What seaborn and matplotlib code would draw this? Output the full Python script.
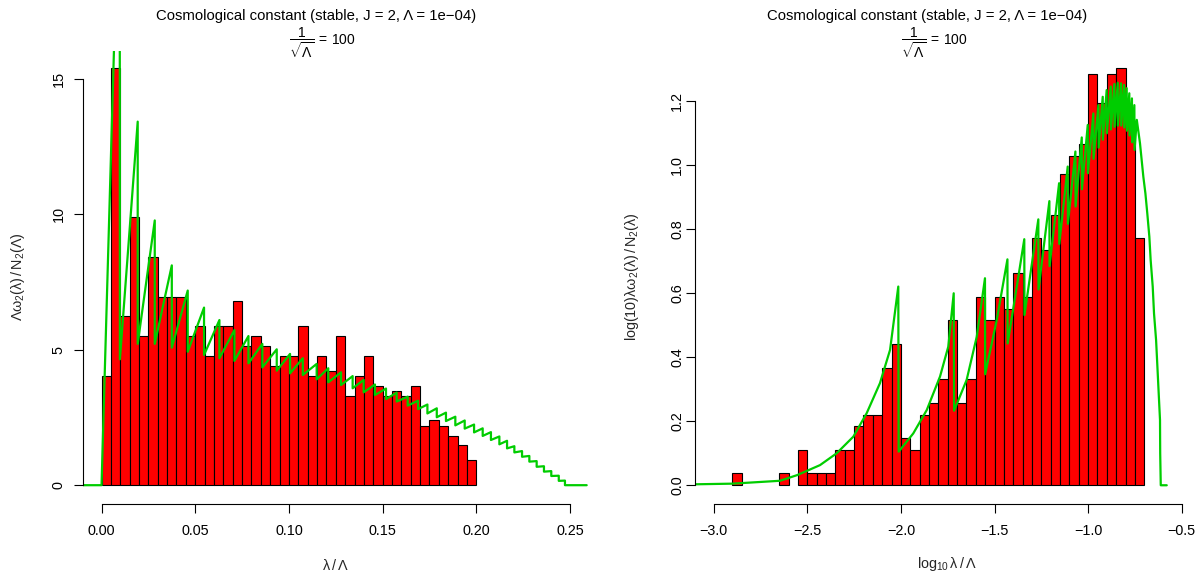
import numpy as np
import pandas as pd
import matplotlib
matplotlib.use("Agg")
import matplotlib.pyplot as plt
import seaborn as sns

# ---------------- data ----------------
title_text = "Cosmological constant (stable, J = 2, \u039b = 1e\u221204)"
subtitle_text = r"$\dfrac{1}{\sqrt{\Lambda}}\,=\,100$"

# left panel: histogram of lambda/Lambda, bins of width 0.005 starting at 0
left_bin_start = 0.0
left_bin_width = 0.005
left_heights = [4.04, 15.41, 6.24, 9.91, 5.50, 8.44, 6.97, 6.97, 6.97, 5.50,
                5.87, 4.77, 5.87, 5.87, 6.79, 5.14, 5.50, 5.14, 4.40, 4.77,
                4.77, 5.87, 4.04, 4.77, 4.22, 5.50, 3.30, 4.04, 4.77, 3.67,
                3.30, 3.49, 3.30, 3.67, 2.20, 2.39, 2.20, 1.83, 1.47, 0.92]

left_curve_x = [-0.0100, 0.0000, 0.0097, 0.0098,
                0.0193, 0.0193, 0.0284, 0.0284, 0.0375, 0.0375, 0.0460, 0.0460,
                0.0547, 0.0547, 0.0629, 0.0629, 0.0709, 0.0709, 0.0784, 0.0784,
                0.0858, 0.0858, 0.0935, 0.0935, 0.1006, 0.1006, 0.1074, 0.1074,
                0.1148, 0.1148, 0.1210, 0.1210, 0.1278, 0.1278, 0.1340, 0.1340,
                0.1399, 0.1399, 0.1459, 0.1459, 0.1518, 0.1518, 0.1575, 0.1575,
                0.1634, 0.1634, 0.1689, 0.1689, 0.1739, 0.1739, 0.1789, 0.1789,
                0.1838, 0.1838, 0.1888, 0.1888, 0.1938, 0.1938, 0.1988, 0.1988,
                0.2034, 0.2034, 0.2078, 0.2078, 0.2123, 0.2123, 0.2164, 0.2164,
                0.2203, 0.2203, 0.2244, 0.2244, 0.2283, 0.2283, 0.2322, 0.2322,
                0.2361, 0.2361, 0.2400, 0.2400, 0.2440, 0.2440, 0.2473, 0.2473,
                0.2589]
left_curve_y = [0.0, 0.0, 23.5, 4.65,
                13.43, 5.22, 9.78, 5.22, 8.12, 5.08, 7.19, 4.93,
                6.56, 4.81, 6.10, 4.69, 5.73, 4.59, 5.51, 4.50,
                5.22, 4.35, 5.02, 4.23, 4.85, 4.13, 4.69, 4.07,
                4.48, 3.91, 4.32, 3.80, 4.17, 3.70, 4.03, 3.58,
                3.89, 3.43, 3.72, 3.33, 3.57, 3.18, 3.42, 3.09,
                3.27, 2.94, 3.12, 2.81, 2.98, 2.65, 2.84, 2.51,
                2.68, 2.37, 2.53, 2.21, 2.39, 2.09, 2.24, 1.95,
                2.10, 1.82, 1.96, 1.67, 1.80, 1.51, 1.64, 1.36,
                1.44, 1.21, 1.26, 1.05, 1.08, 0.87, 0.89, 0.68,
                0.70, 0.50, 0.52, 0.34, 0.35, 0.16, 0.17, 0.0,
                0.0]

# right panel: histogram of log10(lambda/Lambda), bins of width 0.05 from -2.90
right_bin_start = -2.90
right_bin_width = 0.05
right_heights = [0.037, 0.0, 0.0, 0.0, 0.0, 0.037, 0.0,
                 0.110, 0.037, 0.037, 0.037, 0.110, 0.110, 0.184, 0.220, 0.220, 0.368,
                 0.441, 0.147, 0.110, 0.220, 0.257, 0.331, 0.515, 0.257, 0.331, 0.588,
                 0.515, 0.588, 0.551, 0.662, 0.588, 0.772, 0.735, 0.845, 0.974, 1.029,
                 1.066, 1.286, 1.194, 1.286, 1.305, 1.139, 0.772]

right_curve_x = [-3.100, -2.902, -2.646, -2.553, -2.432, -2.343, -2.254, -2.183,
                 -2.112, -2.058, -2.014, -2.012,
                 -1.934, -1.862, -1.791, -1.747, -1.718, -1.716,
                 -1.649, -1.595, -1.551, -1.550,
                 -1.488, -1.431, -1.430,
                 -1.381, -1.341, -1.340,
                 -1.266, -1.265, -1.207, -1.206, -1.155, -1.154, -1.109, -1.108,
                 -1.068, -1.067, -1.034, -1.033, -1.002, -1.001, -0.972, -0.971,
                 -0.945, -0.944, -0.922, -0.921, -0.901, -0.900, -0.879, -0.878,
                 -0.860, -0.859, -0.842, -0.841, -0.824, -0.823, -0.808, -0.807,
                 -0.794, -0.793, -0.780, -0.779, -0.766, -0.765, -0.753, -0.752,
                 -0.740, -0.723, -0.705, -0.694, -0.684, -0.673, -0.666, -0.655,
                 -0.648, -0.637, -0.630, -0.623, -0.616, -0.615, -0.612, -0.580]
right_curve_y = [0.003, 0.005, 0.014, 0.032, 0.063, 0.100, 0.152, 0.225,
                 0.319, 0.423, 0.621, 0.105,
                 0.162, 0.235, 0.340, 0.433, 0.600, 0.233,
                 0.329, 0.464, 0.647, 0.347,
                 0.517, 0.706, 0.443,
                 0.621, 0.769, 0.532,
                 0.831, 0.612, 0.888, 0.685, 0.944, 0.754, 0.996, 0.817,
                 1.043, 0.871, 1.087, 0.925, 1.126, 0.975, 1.162, 1.020,
                 1.188, 1.055, 1.214, 1.080, 1.235, 1.100, 1.246, 1.112,
                 1.254, 1.120, 1.258, 1.124, 1.256, 1.124, 1.251, 1.118,
                 1.241, 1.108, 1.225, 1.093, 1.209, 1.072, 1.188, 1.048,
                 1.142, 1.069, 0.964, 0.912, 0.850, 0.777, 0.704, 0.621,
                 0.537, 0.454, 0.371, 0.287, 0.204, 0.100, 0.0, 0.0]

left_xticks = [0.00, 0.05, 0.10, 0.15, 0.20, 0.25]
left_xticklabels = ["0.00", "0.05", "0.10", "0.15", "0.20", "0.25"]
left_yticks = [0, 5, 10, 15]
left_yticklabels = ["0", "5", "10", "15"]
right_xticks = [-3.0, -2.5, -2.0, -1.5, -1.0, -0.5]
right_xticklabels = ["\u22123.0", "\u22122.5", "\u22122.0", "\u22121.5", "\u22121.0", "\u22120.5"]
right_yticks = [0.0, 0.2, 0.4, 0.6, 0.8, 1.0, 1.2]
right_yticklabels = ["0.0", "0.2", "0.4", "0.6", "0.8", "1.0", "1.2"]

left_xlabel = r"$\lambda\,/\,\Lambda$"
left_ylabel = r"$\Lambda\omega_2(\lambda)\,/\,N_2(\Lambda)$"
right_xlabel = r"$\log_{10}\lambda\,/\,\Lambda$"
right_ylabel = r"$\log(10)\lambda\omega_2(\lambda)\,/\,N_2(\lambda)$"

# ---------------- style ----------------
sns.set_style("white")
plt.rcParams.update({
    "font.family": ["Liberation Sans", "DejaVu Sans"],
    "mathtext.fontset": "custom",
    "mathtext.rm": "Liberation Sans",
    "mathtext.it": "Liberation Sans:italic",
    "mathtext.bf": "Liberation Sans:bold",
    "mathtext.default": "regular",
    "axes.unicode_minus": True,
})

W, H = 1201, 575
fig = plt.figure(figsize=(W / 100, H / 100), dpi=100)
fig.patch.set_facecolor("white")


def rect(l, t, r, b):
    return [l / W, 1 - b / H, (r - l) / W, (b - t) / H]


def fx(px):
    return px / W


def fy(py):
    return 1 - py / H


BAR = "#FF0000"
LINE = "#00CD00"
FS = 10.4

ax1 = fig.add_axes(rect(82.8, 50.7, 592.5, 503.6))
ax2 = fig.add_axes(rect(694.7, 50.5, 1183.6, 503.5))

# left histogram
l_edges = left_bin_start + left_bin_width * np.arange(len(left_heights) + 1)
left_df = pd.DataFrame({"x": (l_edges[:-1] + l_edges[1:]) / 2,
                        "w": np.asarray(left_heights, dtype=float)})
sns.histplot(data=left_df, x="x", weights="w", bins=[float(v) for v in l_edges],
             stat="count", color=BAR, edgecolor="black", linewidth=0.8,
             alpha=1, ax=ax1)
left_line = pd.DataFrame({"x": left_curve_x, "y": left_curve_y})
sns.lineplot(data=left_line, x="x", y="y", estimator=None, sort=False,
             color=LINE, linewidth=1.6, ax=ax1)

# right histogram
r_edges = right_bin_start + right_bin_width * np.arange(len(right_heights) + 1)
right_df = pd.DataFrame({"x": (r_edges[:-1] + r_edges[1:]) / 2,
                         "w": np.asarray(right_heights, dtype=float)})
sns.histplot(data=right_df, x="x", weights="w", bins=[float(v) for v in r_edges],
             stat="count", color=BAR, edgecolor="black", linewidth=0.8,
             alpha=1, ax=ax2)
for p in ax2.patches:
    if p.get_height() == 0:
        p.set_visible(False)
right_line = pd.DataFrame({"x": right_curve_x, "y": right_curve_y})
sns.lineplot(data=right_line, x="x", y="y", estimator=None, sort=False,
             color=LINE, linewidth=1.6, ax=ax2)

for ax, xt, xtl, yt, ytl, ypad in [
    (ax1, left_xticks, left_xticklabels, left_yticks, left_yticklabels, 6.2),
    (ax2, right_xticks, right_xticklabels, right_yticks, right_yticklabels, 1.3),
]:
    ax.set_facecolor("white")
    ax.grid(False)
    for s in ["top", "right"]:
        ax.spines[s].set_visible(False)
    for s in ["left", "bottom"]:
        ax.spines[s].set_color("black")
        ax.spines[s].set_linewidth(0.8)
    ax.set_xticks(xt)
    ax.set_xticklabels(xtl)
    ax.set_yticks(yt)
    ax.set_yticklabels(ytl, rotation=90, va="center")
    ax.spines["left"].set_bounds(yt[0], yt[-1])
    ax.spines["bottom"].set_bounds(xt[0], xt[-1])
    ax.tick_params(axis="both", direction="out", length=6.3, width=0.8,
                   color="black", labelsize=FS, labelcolor="black",
                   bottom=True, left=True, top=False, right=False)
    ax.tick_params(axis="x", pad=8.4)
    ax.tick_params(axis="y", pad=ypad)

# limits after ticks (set_xticks may widen the view)
ax1.set_xlim(-0.0100, 0.2620)
ax1.set_ylim(-0.68, 16.05)
ax2.set_xlim(-3.1015, -0.49)
ax2.set_ylim(-0.057, 1.3587)

ax1.set_xlabel(left_xlabel, fontsize=FS)
ax1.set_ylabel(left_ylabel, fontsize=FS)
ax2.set_xlabel(right_xlabel, fontsize=FS)
ax2.set_ylabel(right_ylabel, fontsize=FS)
ax1.xaxis.set_label_coords(fx(335), fy(565), transform=fig.transFigure)
ax1.yaxis.set_label_coords(fx(18), fy(277), transform=fig.transFigure)
ax2.xaxis.set_label_coords(fx(947), fy(564), transform=fig.transFigure)
ax2.yaxis.set_label_coords(fx(632), fy(277), transform=fig.transFigure)
for lab in [ax1.xaxis.label, ax2.xaxis.label]:
    lab.set_va("center")
for lab in [ax1.yaxis.label, ax2.yaxis.label]:
    lab.set_va("center")

# titles
for cx_t, cx_s in [(316, 322), (927, 934)]:
    fig.text(fx(cx_t), fy(20.3), title_text, ha="center", va="baseline",
             fontsize=10.7, color="black")
    fig.text(fx(cx_s), fy(43), subtitle_text, ha="center", va="center",
             fontsize=10.0, color="black")

fig.savefig("out.png", dpi=100, facecolor="white")
